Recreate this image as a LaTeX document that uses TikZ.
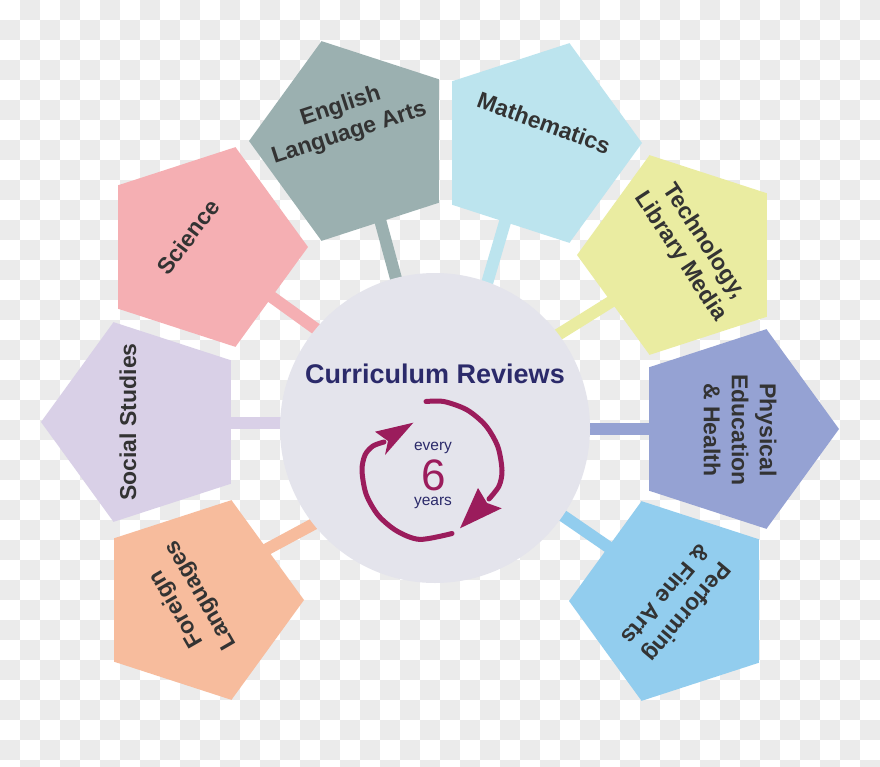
\documentclass[tikz,border=0pt]{standalone}
\usepackage{fontspec}
\setmainfont{Liberation Sans}
\usetikzlibrary{shapes.geometric}
\definecolor{chk}{HTML}{EBEBEB}
\definecolor{cELA}{HTML}{9BB0B0}
\definecolor{cMath}{HTML}{BCE4EE}
\definecolor{cTech}{HTML}{EAECA1}
\definecolor{cSci}{HTML}{F5AFB3}
\definecolor{cSoc}{HTML}{D9D0E7}
\definecolor{cPE}{HTML}{95A2D3}
\definecolor{cFL}{HTML}{F7BC9D}
\definecolor{cPA}{HTML}{92CDEE}
\definecolor{ccirc}{HTML}{E4E4EC}
\definecolor{txt}{HTML}{333333}
\definecolor{navy}{HTML}{2B2A6A}
\definecolor{plum}{HTML}{9B1C5C}
\pgfdeclarelayer{bg}
\pgfdeclarelayer{conn}
\pgfsetlayers{bg,conn,main}
\tikzset{
  pent/.style={regular polygon, regular polygon sides=5, minimum size=210pt, inner sep=0pt, outer sep=0pt, draw=none},
  lbl/.style={font=\fontsize{23}{28}\selectfont\bfseries, text=txt, align=center, inner sep=0pt},
  bar/.style={line width=12pt},
  arrowline/.style={plum, line width=5pt, line cap=round},
}
\begin{document}
\begin{tikzpicture}[x=1pt,y=-1pt]
\useasboundingbox (0,0) rectangle (880,767);
% background checkerboard
\begin{pgfonlayer}{bg}
\begin{scope}
\clip (0,0) rectangle (880,767);
\fill[white] (0,0) rectangle (880,767);
\foreach \i in {0,...,43}{
  \foreach \j in {0,...,38}{
    \pgfmathtruncatemacro{\chkodd}{mod(\i+\j,2)}
    \ifnum\chkodd=1 \fill[chk] (\i*20,\j*20) rectangle ++(20,20);\fi
  }
}
\end{scope}
\end{pgfonlayer}

% hub
\node[circle, fill=ccirc, minimum size=310pt, inner sep=0pt] (hub) at (435,428) {};

% pentagons
\node[pent, fill=cELA,  shape border rotate=90]  (ela)  at (354,141) {};
\node[pent, fill=cMath, shape border rotate=-90] (math) at (537,143) {};
\node[pent, fill=cTech, shape border rotate=90]  (tech) at (682,255) {};
\node[pent, fill=cSci,  shape border rotate=-90] (sci)  at (203,247) {};
\node[pent, fill=cSoc,  shape border rotate=90]  (soc)  at (146,422) {};
\node[pent, fill=cPE,   shape border rotate=-90] (pe)   at (734,429) {};
\node[pent, fill=cFL,   shape border rotate=-90] (fl)   at (199,600) {};
\node[pent, fill=cPA,   shape border rotate=90]  (pa)   at (674,601) {};

% connector end points
\coordinate (ela-a) at (376,205);  \coordinate (ela-b) at (401,297);
\coordinate (math-a) at (510,205); \coordinate (math-b) at (483,297);
\coordinate (tech-a) at (625,293); \coordinate (tech-b) at (548,341);
\coordinate (sci-a) at (262,290);  \coordinate (sci-b) at (330,339);
\coordinate (soc-a) at (225,422.5);\coordinate (soc-b) at (290,422.5);
\coordinate (pe-a) at (655,429);   \coordinate (pe-b) at (585,429);
\coordinate (fl-a) at (257,554.5); \coordinate (fl-b) at (322,519.5);
\coordinate (pa-a) at (620,555);   \coordinate (pa-b) at (553,509);

\begin{pgfonlayer}{conn}
\draw[bar, cELA]  (ela-a) -- (ela-b);
\draw[bar, cMath] (math-a) -- (math-b);
\draw[bar, cTech] (tech-a) -- (tech-b);
\draw[bar, cSci]  (sci-a) -- (sci-b);
\draw[bar, cSoc]  (soc-a) -- (soc-b);
\draw[bar, cPE]   (pe-a) -- (pe-b);
\draw[bar, cFL]   (fl-a) -- (fl-b);
\draw[bar, cPA]   (pa-a) -- (pa-b);
\end{pgfonlayer}

% labels
\node[lbl, rotate=18]   (ela-t)  at (345,120) {English\\Language Arts};
\node[lbl, rotate=-20]  (math-t) at (544,123) {Mathematics};
\node[lbl, rotate=-57]  (tech-t) at (692,249) {Technology,\\Library Media};
\node[lbl, rotate=53]   (sci-t)  at (188,237) {Science};
\node[lbl, rotate=90]   (soc-t)  at (128,422) {Social Studies};
\node[lbl, rotate=-90]  (pe-t)   at (740,430) {Physical\\Education\\\& Health};
\node[lbl, rotate=-130] (pa-t)   at (677,604) {Performing\\\& Fine Arts};
\node[lbl, rotate=120]  (fl-t)   at (189,602) {Foreign\\Languages};

% centre texts
\node[anchor=base, inner sep=0pt, text=navy, font=\fontsize{27}{32}\selectfont\bfseries] (title) at (435,383) {Curriculum Reviews};
\node[anchor=base, inner sep=0pt, text=navy, font=\fontsize{15.5}{18}\selectfont] (every) at (433,450) {every};
\node[anchor=base, inner sep=0pt, text=plum, font=\fontsize{44}{50}\selectfont] (six) at (434,490) {6};
\node[anchor=base, inner sep=0pt, text=navy, font=\fontsize{15.5}{18}\selectfont] (years) at (433,505) {years};

% cycle arrows
\draw[arrowline] plot[smooth] coordinates {(426,401.5) (444.2,401.6) (467,409.9) (485.6,425.5) (497.8,446.6) (502,470.5) (499,486) (489,499)};
\fill[plum] (478,488) -- (460,528.3) -- (501.7,508.3) -- (487,503) -- cycle;
\draw[arrowline] plot[smooth] coordinates {(452,533.5) (419.8,539.4) (397,531.1) (378.4,515.5) (366.2,494.4) (362,470.5) (365,455) (373,446) (384,442)};
\fill[plum] (385,455) -- (413.3,422.7) -- (375,431.7) -- (388,441) -- cycle;
\end{tikzpicture}
\end{document}
